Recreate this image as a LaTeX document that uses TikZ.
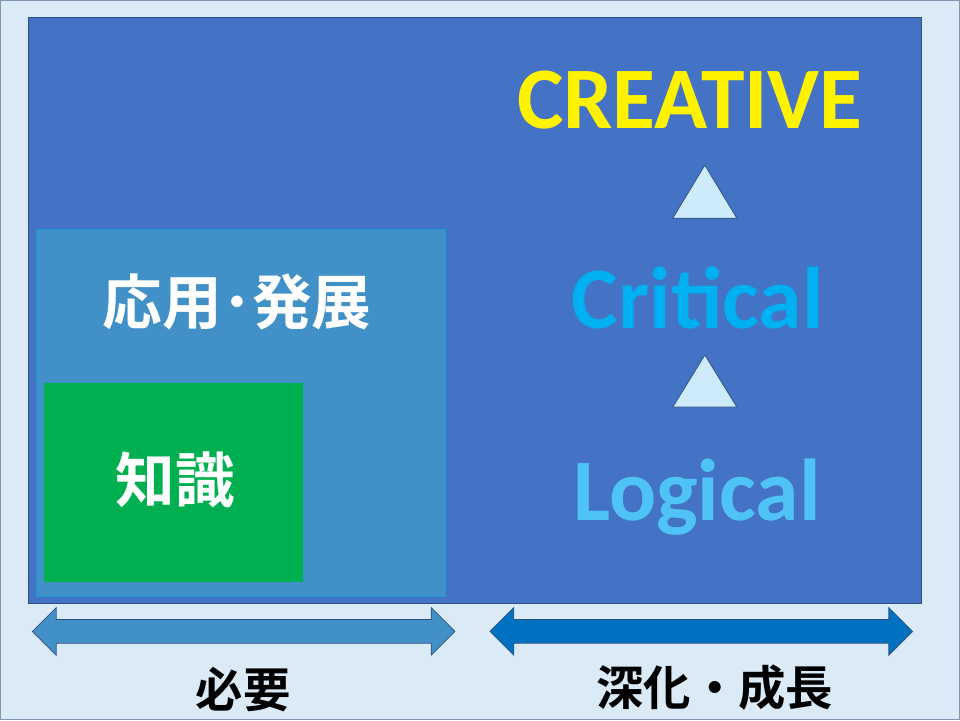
\documentclass[tikz,border=0pt]{standalone}
\usepackage{fontspec}
\setmainfont{Carlito}
\newfontfamily\cjk{Noto Sans CJK JP}[BoldFont={* Bold}]
\usetikzlibrary{shapes.arrows,shapes.geometric}
\definecolor{bgblue}{HTML}{DAEAF7}
\definecolor{mainblue}{HTML}{4472C4}
\definecolor{midblue}{HTML}{4290C8}
\definecolor{deepblue}{HTML}{0070C0}
\definecolor{okgreen}{HTML}{00B050}
\definecolor{critblue}{HTML}{00B0F0}
\definecolor{logblue}{HTML}{4FC3F5}
\definecolor{tripale}{HTML}{CDEBFA}
\definecolor{edge}{HTML}{2F4F7F}

\begin{document}
\begin{tikzpicture}
[x=0.02cm, y=-0.02cm,
 bigword/.style={font=\bfseries\fontsize{50}{56}\selectfont},
 jpword/.style={font=\cjk\bfseries\fontsize{34}{38}\selectfont, text=white},
 jplabel/.style={font=\cjk\bfseries\fontsize{27}{30}\selectfont},
 uptri/.style={draw=edge, fill=tripale, thin},
 twoway/.style={double arrow, draw=edge, thin, inner sep=0pt, text height=0.46cm, text depth=0pt,
   minimum height=8.46cm, double arrow head extend=0.24cm}]

\fill[bgblue, draw=edge!60] (0,0) rectangle (960,720);
\node (frame) [draw=edge, fill=mainblue, minimum width=17.88cm, minimum height=11.72cm, inner sep=0pt] at (475,310) {};
\node (apply) [draw=critblue!60!mainblue, fill=midblue, minimum width=8.18cm, minimum height=7.34cm, inner sep=0pt] at (240.5,412.5) {};
\node (know) [fill=okgreen, minimum width=5.18cm, minimum height=3.98cm, inner sep=0pt] at (173.5,482.5) {};
\node (applytext) [jpword] at (237,302) {応用･発展};
\node (knowtext) [jpword] at (175,480) {知識};

\node (creative) [bigword, text={yellow}] at (690,100) {CREATIVE};
\node (critical) [bigword, text=critblue] at (698,298) {Critical};
\node (logical) [bigword, text=logblue] at (697,497) {Logical};
\draw[uptri] (705,165) -- (737,218) -- (673,218) -- cycle;
\draw[uptri] (705,355) -- (737,407) -- (673,407) -- cycle;

\node (need) [twoway, fill=midblue] at (243.5,631.5) {};
\node (grow) [twoway, fill=deepblue] at (701.5,631.5) {};
\node (needtext) [jplabel] at (243,690) {必要};
\node (growtext) [jplabel] at (715,688) {深化・成長};
\end{tikzpicture}
\end{document}
